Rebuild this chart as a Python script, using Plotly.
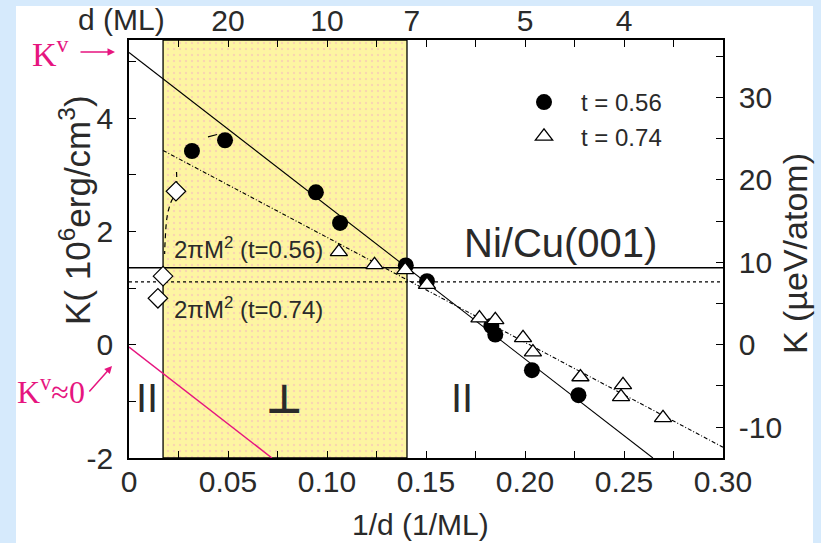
import plotly.graph_objects as go

# ---- data: magnetic anisotropy K versus inverse thickness 1/d ----
t056_x = [0.0318, 0.0485, 0.0944, 0.1066, 0.1398, 0.1505, 0.1830, 0.1850, 0.2035, 0.2270]
t056_y = [3.42, 3.61, 2.69, 2.15, 1.40, 1.12, 0.33, 0.18, -0.45, -0.89]

t074_x = [0.1060, 0.1240, 0.1395, 0.1505, 0.1770, 0.1850, 0.1990, 0.2040, 0.2280, 0.2495, 0.2485, 0.2697]
t074_y = [1.64, 1.41, 1.32, 1.06, 0.47, 0.44, 0.12, -0.13, -0.57, -0.71, -0.92, -1.29]

diamond_x = [0.0237, 0.0172, 0.0146]
diamond_y = [2.71, 1.21, 0.82]

# hand-drawn guide strokes
diamond_guide_x = [0.0240, 0.0237, 0.0210, 0.0192, 0.0182, 0.0180]
diamond_guide_y = [3.05, 2.71, 2.50, 2.25, 1.80, 1.60]
circle_guide_x = [0.0399, 0.0445]
circle_guide_y = [3.67, 3.71]

# linear fits K = K^v - K^s/d
fit056_x = [0.0, 0.2646]
fit056_y = [5.16, -2.0]
fit074_x = [0.0172, 0.30]
fit074_y = [3.43, -1.81]
kv0_x = [0.0, 0.0722]
kv0_y = [-0.04, -2.0]

# shape anisotropy 2*pi*M^2 levels
shape056 = 1.36
shape074 = 1.11

# perpendicular-magnetization window in 1/d
perp_lo, perp_hi = 0.0172, 0.1404

# axes
x_range = [0.0, 0.30]
y_range = [-2.0, 5.38]
erg_to_ueV = 6.87          # 10^6 erg/cm^3 -> ueV/atom for Ni
x_major = [0.0, 0.05, 0.10, 0.15, 0.20, 0.25, 0.30]
x_major_text = ["0", "0.05", "0.10", "0.15", "0.20", "0.25", "0.30"]
x_minor = [0.025, 0.075, 0.125, 0.175, 0.225, 0.275]
y_major = [-2, 0, 2, 4]
y_major_text = ["-2", "0", "2", "4"]
y_minor = [-1, 1, 3, 5]
y2_major = [-10, 0, 10, 20, 30]
y2_major_text = ["-10", "0", "10", "20", "30"]
y2_minor = [-5, 5, 15, 25, 35]
top_ticks = [0.025, 0.05, 0.075, 0.10, 0.125, 0.15, 0.175, 0.20, 0.225, 0.25, 0.275]
top_d = [20, 10, 7, 5, 4]

MAGENTA = "#e6157f"
YELLOW = "#fdf5a2"
FONT = "Liberation Sans, Arial, sans-serif"
SERIF = "Liberation Serif, Times New Roman, serif"
TXT = "#2a2a2a"

W, H = 821, 543
L, R, T, B = 129, 98, 40, 85
PW, PH = W - L - R, H - T - B


def px(xp):
    return (xp - L) / PW


def py(yp):
    return (H - B - yp) / PH


fig = go.Figure()

# yellow window with pink dotted texture
fig.add_trace(go.Bar(
    x=[(perp_lo + perp_hi) / 2], y=[y_range[1] - y_range[0]], base=[y_range[0]],
    width=[perp_hi - perp_lo],
    marker=dict(color=YELLOW, line=dict(color="black", width=1.3),
                pattern=dict(shape=".", fgcolor="#f3b4bf", bgcolor=YELLOW,
                             size=6, solidity=0.12)),
    showlegend=False, hoverinfo="skip"))

# shape anisotropy levels
fig.add_trace(go.Scatter(x=x_range, y=[shape056, shape056], mode="lines",
                         line=dict(color="black", width=1.6), showlegend=False))
fig.add_trace(go.Scatter(x=x_range, y=[shape074, shape074], mode="lines",
                         line=dict(color="black", width=1.4, dash="dot"), showlegend=False))

# fits
fig.add_trace(go.Scatter(x=fit056_x, y=fit056_y, mode="lines",
                         line=dict(color="black", width=1.1), showlegend=False))
fig.add_trace(go.Scatter(x=fit074_x, y=fit074_y, mode="lines",
                         line=dict(color="black", width=1.1, dash="4px,2px,1px,2px"), showlegend=False))
fig.add_trace(go.Scatter(x=kv0_x, y=kv0_y, mode="lines",
                         line=dict(color=MAGENTA, width=1.5), showlegend=False))

# guide strokes
fig.add_trace(go.Scatter(x=diamond_guide_x, y=diamond_guide_y, mode="lines",
                         line=dict(color="black", width=1.2, dash="5px,4px", shape="spline"),
                         showlegend=False, hoverinfo="skip"))
fig.add_trace(go.Scatter(x=circle_guide_x, y=circle_guide_y, mode="lines",
                         line=dict(color="black", width=1.1), showlegend=False, hoverinfo="skip"))

# data points
fig.add_trace(go.Scatter(x=diamond_x, y=diamond_y, mode="markers", showlegend=False,
                         marker=dict(symbol="diamond", size=15, color="white",
                                     line=dict(color="black", width=1.2))))
fig.add_trace(go.Scatter(x=t056_x, y=t056_y, mode="markers", name="t = 0.56",
                         marker=dict(symbol="circle", size=16, color="black")))
fig.add_trace(go.Scatter(x=t074_x, y=t074_y, mode="markers", name="t = 0.74",
                         marker=dict(symbol="triangle-up", size=15, color="white",
                                     line=dict(color="black", width=1.3))))

# carriers for the secondary axes
fig.add_trace(go.Scatter(x=x_range, y=[y_range[0] * erg_to_ueV, y_range[1] * erg_to_ueV],
                         xaxis="x2", yaxis="y2", mode="none", showlegend=False, hoverinfo="skip"))
fig.add_trace(go.Scatter(x=x_range, y=y_range, xaxis="x3", yaxis="y", mode="none",
                         showlegend=False, hoverinfo="skip"))

axis_common = dict(showgrid=False, zeroline=False, showline=True, linecolor="black",
                   linewidth=1.5, ticks="inside", ticklen=7, tickwidth=1.3, automargin=False,
                   tickcolor="black", tickfont=dict(family=FONT, size=30, color=TXT))
minor_common = dict(tickmode="array", ticks="inside", ticklen=7, tickcolor="black", tickwidth=1.3)

fig.update_layout(
    width=W, height=H, autosize=False,
    margin=dict(l=L, r=R, t=T, b=B, pad=0, autoexpand=False),
    paper_bgcolor="#d6eafc", plot_bgcolor="rgba(0,0,0,0)",
    showlegend=True,
    legend=dict(x=px(507), y=py(80), xanchor="left", yanchor="top",
                bgcolor="rgba(0,0,0,0)", font=dict(family=FONT, size=24, color=TXT),
                itemwidth=64, tracegroupgap=0),
    xaxis=dict(range=x_range, tickmode="array", tickvals=x_major, ticktext=x_major_text,
               minor=dict(tickvals=x_minor, **minor_common),
               ticklabelstandoff=-4, **axis_common),
    yaxis=dict(range=y_range, tickmode="array", tickvals=y_major, ticktext=y_major_text,
               minor=dict(tickvals=y_minor, **minor_common),
               ticklabelstandoff=8, **axis_common),
    yaxis2=dict(range=[y_range[0] * erg_to_ueV, y_range[1] * erg_to_ueV], overlaying="y",
                side="right", anchor="x", tickmode="array", tickvals=y2_major,
                ticktext=y2_major_text,
                minor=dict(tickvals=y2_minor, **minor_common),
                ticklabelstandoff=8, **axis_common),
    xaxis2=dict(range=x_range, overlaying="x", side="top", anchor="y", tickmode="array",
                tickvals=top_ticks, showticklabels=False, **axis_common),
    xaxis3=dict(range=x_range, overlaying="x", side="top", anchor="y", tickmode="array",
                tickvals=[1 / d for d in top_d], ticktext=[str(d) for d in top_d],
                showgrid=False, zeroline=False, showline=False, ticks="", automargin=False,
                ticklabelstandoff=2, tickfont=dict(family=FONT, size=30, color=TXT)),
    shapes=[dict(type="rect", xref="paper", yref="paper", layer="below",
                 x0=px(16), x1=px(813), y0=py(560), y1=py(6),
                 fillcolor="white", line=dict(width=0))],
)

ann = []


def text(x, y, s, size=30, color=TXT, family=FONT, angle=0, xanchor="center", xref="paper", yref="paper"):
    ann.append(dict(x=x, y=y, xref=xref, yref=yref, text=s, showarrow=False,
                    textangle=angle, xanchor=xanchor, yanchor="middle",
                    font=dict(family=family, size=size, color=color)))


text(px(121), py(20), "d (ML)")
text(px(420), py(524), "1/d (1/ML)")
text(px(75), py(210), "K( 10<sup>6</sup>erg/cm<sup>3</sup>)", size=35, angle=-90)
text(px(795), py(253), "K (µeV/atom)", size=34, angle=-90)
text(px(560), py(243), "Ni/Cu(001)", size=40)
text(0.0217, 1.71, "2πM<sup>2</sup> (t=0.56)", size=24, xanchor="left", xref="x", yref="y")
text(0.0217, 0.65, "2πM<sup>2</sup> (t=0.74)", size=24, xanchor="left", xref="x", yref="y")
text(px(147), py(398), "II", size=40)
text(px(284), py(399), "<b>⊥</b>", size=40, family="DejaVu Sans")
text(px(462), py(398), "II", size=40)
text(px(50), py(52), "K<sup>v</sup>", size=34, color=MAGENTA, family=SERIF)
text(px(51), py(390), "K<sup>v</sup>≈0", size=32, color=MAGENTA, family=SERIF)

# arrows pointing at the intercepts
ann.append(dict(x=px(115), y=py(52), xref="paper", yref="paper", text="", showarrow=True,
                ax=-36, ay=0, arrowcolor=MAGENTA, arrowwidth=1.5, arrowhead=2, arrowsize=1))
ann.append(dict(x=px(112), y=py(366), xref="paper", yref="paper", text="", showarrow=True,
                ax=-24, ay=27, arrowcolor=MAGENTA, arrowwidth=1.5, arrowhead=2, arrowsize=1))

fig.update_layout(annotations=ann)
fig.write_html("out.html")
